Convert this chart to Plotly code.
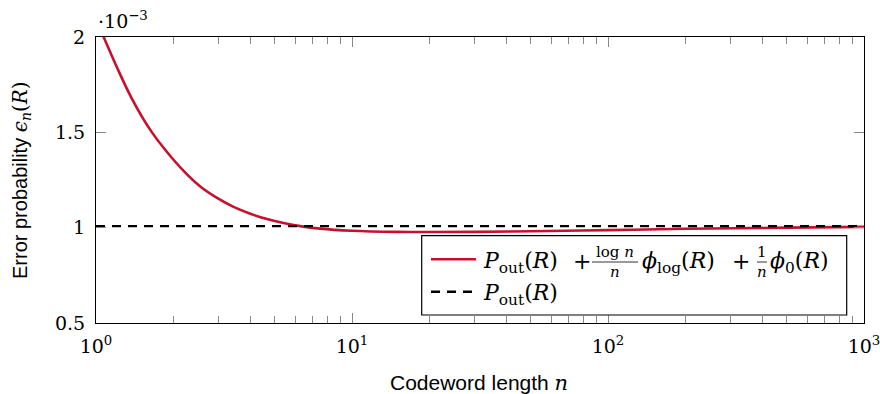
import plotly.graph_objects as go

# ---- data (values in units of 1e-3) ----
n_red = [1.0, 1.071, 1.197, 1.382, 1.644, 1.894, 2.199, 2.555, 2.97, 3.447, 4.006,
         4.656, 5.405, 6.28, 7.5, 10, 15, 20, 30, 50, 100, 200, 500, 1000]
eps_red = [2.09, 2.0, 1.852, 1.676, 1.505, 1.397, 1.298, 1.216, 1.156, 1.109, 1.073,
           1.045, 1.024, 1.008, 0.995, 0.984, 0.978, 0.977, 0.978, 0.981, 0.987, 0.994, 1.0, 1.004]
n_out = [1, 1000]
eps_out = [1.008, 1.008]

x_tickvals = [1, 10, 100, 1000]
x_ticktext = ["10<sup>0</sup>", "10<sup>1</sup>", "10<sup>2</sup>", "10<sup>3</sup>"]
x_minor = [2, 3, 4, 5, 6, 7, 8, 9, 20, 30, 40, 50, 60, 70, 80, 90,
           200, 300, 400, 500, 600, 700, 800, 900]
y_tickvals = [0.5, 1, 1.5, 2]
y_ticktext = ["0.5", "1", "1.5", "2"]

RED = "#c8102e"
SERIF = "DejaVu Serif"
SANS = "Liberation Sans"

W, H = 880, 394
L, R, T, B = 96, 16, 37, 71
PW, PH = W - L - R, H - T - B


def px(x):
    return (x - L) / PW


def py(y):
    return (H - B - y) / PH


fig = go.Figure()
fig.add_trace(go.Scatter(x=n_red, y=eps_red, mode="lines", line=dict(color=RED, width=2.6, shape="spline"),
                         showlegend=False))
fig.add_trace(go.Scatter(x=n_out, y=eps_out, mode="lines", line=dict(color="black", width=2.4, dash="9px,7px"),
                         showlegend=False))
# invisible trace to carry the mirrored top axis
fig.add_trace(go.Scatter(x=n_out, y=eps_out, xaxis="x2", mode="lines", line=dict(width=0),
                         hoverinfo="skip", showlegend=False, opacity=0))

axis_common = dict(showline=True, linecolor="black", linewidth=1.2, mirror="ticks", ticks="inside",
                   tickcolor="#888", tickwidth=1, showgrid=False, zeroline=False, automargin=False,
                   ticklabeloverflow="allow",
                   tickfont=dict(family=SERIF, size=19, color="black"))

fig.update_xaxes(type="log", range=[0, 3], tickvals=x_tickvals, ticktext=x_ticktext, ticklen=10,
                 ticklabelstandoff=6,
                 minor=dict(tickvals=x_minor, ticks="inside", ticklen=7, tickcolor="#888", showgrid=False),
                 **axis_common)
fig.update_yaxes(range=[0.5, 2], tickvals=y_tickvals, ticktext=y_ticktext, ticklen=10,
                 ticklabelstandoff=6, **axis_common)

fig.update_layout(xaxis2=dict(type="log", range=[0, 3], overlaying="x", side="top", anchor="y",
                              tickvals=x_tickvals, showticklabels=False, ticks="inside", ticklen=10,
                              tickcolor="#888", tickwidth=1, showgrid=False, zeroline=False, showline=False,
                              automargin=False,
                              minor=dict(tickvals=x_minor, ticks="inside", ticklen=7, tickcolor="#888",
                                         showgrid=False)))

shapes = []
annotations = []
# legend box
shapes.append(dict(type="rect", xref="paper", yref="paper", x0=px(421.7), x1=px(846.7), y0=py(315), y1=py(235.7),
                   line=dict(color="black", width=1.2), fillcolor="white", layer="above"))
shapes.append(dict(type="line", xref="paper", yref="paper", x0=px(431), x1=px(476), y0=py(259.3), y1=py(259.3),
                   line=dict(color=RED, width=2.6), layer="above"))
shapes.append(dict(type="line", xref="paper", yref="paper", x0=px(431), x1=px(476), y0=py(291.7), y1=py(291.7),
                   line=dict(color="black", width=2.4, dash="9px,7px"), layer="above"))
# fraction bars
shapes.append(dict(type="line", xref="paper", yref="paper", x0=px(592), x1=px(638), y0=py(262), y1=py(262),
                   line=dict(color="black", width=0.8), layer="above"))
shapes.append(dict(type="line", xref="paper", yref="paper", x0=px(757), x1=px(767), y0=py(262), y1=py(262),
                   line=dict(color="black", width=0.8), layer="above"))

LF = 22
SF = 15


def ann(x, y, text, size=LF, xanchor="left", family=SERIF):
    annotations.append(dict(xref="paper", yref="paper", x=px(x), y=py(y), text=text, showarrow=False,
                            xanchor=xanchor, yanchor="middle", font=dict(family=family, size=size, color="black")))


ann(481, 262, "<i>P</i><sub>out</sub>(<i>R</i>)")
ann(582, 261, "+", xanchor="center")
ann(615, 252, "log <i>n</i>", size=SF, xanchor="center")
ann(615, 272, "<i>n</i>", size=SF, xanchor="center")
ann(640, 262, "<i>ϕ</i><sub>log</sub>(<i>R</i>)")
ann(741, 261, "+", xanchor="center")
ann(762, 252, "1", size=SF, xanchor="center")
ann(762, 272, "<i>n</i>", size=SF, xanchor="center")
ann(768, 262, "<i>ϕ</i><sub>0</sub>(<i>R</i>)")
ann(481, 294, "<i>P</i><sub>out</sub>(<i>R</i>)")

# exponent label
annotations.append(dict(xref="paper", yref="paper", x=px(96), y=py(20), text="·10<sup>−3</sup>", showarrow=False,
                        xanchor="left", yanchor="middle", font=dict(family=SERIF, size=19, color="black")))
# axis titles
annotations.append(dict(xref="paper", yref="paper", x=px(21), y=py(180), textangle=-90,
                        text="Error probability <span style='font-family:DejaVu Serif'><i>ϵ</i><sub><i>n</i></sub>(<i>R</i>)</span>",
                        showarrow=False, xanchor="center", yanchor="middle", font=dict(family=SANS, size=20, color="black")))
annotations.append(dict(xref="paper", yref="paper", x=px(479), y=py(383),
                        text="Codeword length <span style='font-family:DejaVu Serif'><i>n</i></span>",
                        showarrow=False, xanchor="center", yanchor="middle", font=dict(family=SANS, size=21, color="black")))

fig.update_layout(width=W, height=H, margin=dict(l=L, r=R, t=T, b=B), plot_bgcolor="white",
                  paper_bgcolor="white", shapes=shapes, annotations=annotations, showlegend=False)

fig.write_html("out.html")
